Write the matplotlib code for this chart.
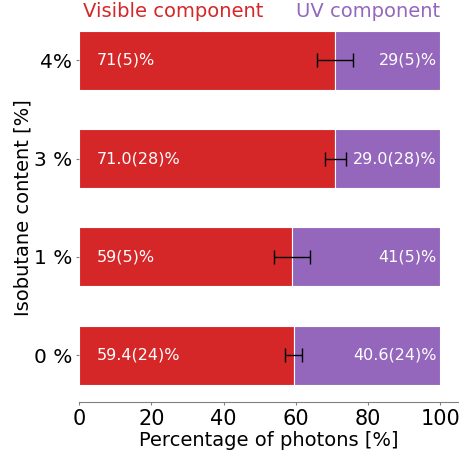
import matplotlib
matplotlib.use('Agg')
import matplotlib.pyplot as plt
import numpy as np

# isobutane admixtures, bottom to top
labels = ['0 %', '1 %', '3 %', '4%']
visible = [59.4, 59, 71.0, 71]
uv = [40.6, 41, 29.0, 29]
err = [2.4, 5, 2.8, 5]
visible_txt = ['59.4(24)%', '59(5)%', '71.0(28)%', '71(5)%']
uv_txt = ['40.6(24)%', '41(5)%', '29.0(28)%', '29(5)%']

red = '#d62728'
purple = '#9467bd'

fig = plt.figure(figsize=(4.6, 4.55), dpi=100)
ax = fig.add_axes([0.172, 0.116, 0.824, 0.855])

y = np.arange(len(labels))
ax.barh(y, visible, height=0.6, color=red, edgecolor='white', linewidth=0.8)
ax.barh(y, uv, height=0.6, left=visible, color=purple, edgecolor='white', linewidth=0.8)
ax.errorbar(visible, y, xerr=err, fmt='none', ecolor='black', elinewidth=1, capsize=5)

for i in range(len(labels)):
    ax.text(5, y[i], visible_txt[i], color='white', fontsize=11.5, va='center', ha='left')
    ax.text(99, y[i], uv_txt[i], color='white', fontsize=11.5, va='center', ha='right')

ax.text(1, 3.5, 'Visible component', color=red, fontsize=14, ha='left', va='center')
ax.text(100, 3.5, 'UV component', color=purple, fontsize=14, ha='right', va='center')

ax.set_yticks(y)
ax.set_yticklabels(labels, fontsize=14.5)
ax.set_xlim(0, 105)
ax.set_ylim(-0.48, 3.48)
ax.set_xticks([0, 20, 40, 60, 80, 100])
ax.tick_params(axis='x', labelsize=15)
ax.tick_params(axis='both', length=2.5, pad=2.5, color='0.5')
ax.set_xlabel('Percentage of photons [%]', fontsize=14, labelpad=1)
ax.set_ylabel('Isobutane content [%]', fontsize=14, labelpad=1)

for s in ['top', 'right', 'left']:
    ax.spines[s].set_visible(False)
ax.spines['bottom'].set_color('0.5')

fig.savefig('out.png', dpi=100)
